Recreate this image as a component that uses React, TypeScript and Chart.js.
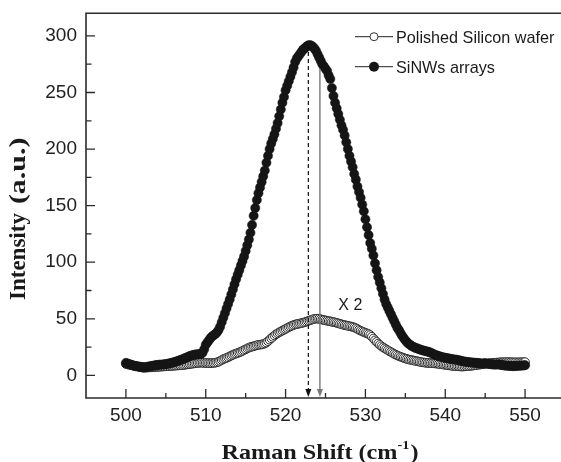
import React, { useEffect, useRef } from "react";
import { Chart, registerables } from "chart.js";

Chart.register(...registerables);

// Raman shift sample positions (cm^-1)
const ramanShift = [
  500, 500.2, 500.4, 500.6, 500.8, 501, 501.2, 501.4, 501.6, 501.8,
  502, 502.2, 502.4, 502.6, 502.8, 503, 503.2, 503.4, 503.6, 503.8,
  504, 504.2, 504.4, 504.6, 504.8, 505, 505.2, 505.4, 505.6, 505.8,
  506, 506.2, 506.4, 506.6, 506.8, 507, 507.2, 507.4, 507.6, 507.8,
  508, 508.2, 508.4, 508.6, 508.8, 509, 509.2, 509.4, 509.6, 509.8,
  510, 510.2, 510.4, 510.6, 510.8, 511, 511.2, 511.4, 511.6, 511.8,
  512, 512.2, 512.4, 512.6, 512.8, 513, 513.2, 513.4, 513.6, 513.8,
  514, 514.2, 514.4, 514.6, 514.8, 515, 515.2, 515.4, 515.6, 515.8,
  516, 516.2, 516.4, 516.6, 516.8, 517, 517.2, 517.4, 517.6, 517.8,
  518, 518.2, 518.4, 518.6, 518.8, 519, 519.2, 519.4, 519.6, 519.8,
  520, 520.2, 520.4, 520.6, 520.8, 521, 521.2, 521.4, 521.6, 521.8,
  522, 522.2, 522.4, 522.6, 522.8, 523, 523.2, 523.4, 523.6, 523.8,
  524, 524.2, 524.4, 524.6, 524.8, 525, 525.2, 525.4, 525.6, 525.8,
  526, 526.2, 526.4, 526.6, 526.8, 527, 527.2, 527.4, 527.6, 527.8,
  528, 528.2, 528.4, 528.6, 528.8, 529, 529.2, 529.4, 529.6, 529.8,
  530, 530.2, 530.4, 530.6, 530.8, 531, 531.2, 531.4, 531.6, 531.8,
  532, 532.2, 532.4, 532.6, 532.8, 533, 533.2, 533.4, 533.6, 533.8,
  534, 534.2, 534.4, 534.6, 534.8, 535, 535.2, 535.4, 535.6, 535.8,
  536, 536.2, 536.4, 536.6, 536.8, 537, 537.2, 537.4, 537.6, 537.8,
  538, 538.2, 538.4, 538.6, 538.8, 539, 539.2, 539.4, 539.6, 539.8,
  540, 540.2, 540.4, 540.6, 540.8, 541, 541.2, 541.4, 541.6, 541.8,
  542, 542.2, 542.4, 542.6, 542.8, 543, 543.2, 543.4, 543.6, 543.8,
  544, 544.2, 544.4, 544.6, 544.8, 545, 545.2, 545.4, 545.6, 545.8,
  546, 546.2, 546.4, 546.6, 546.8, 547, 547.2, 547.4, 547.6, 547.8,
  548, 548.2, 548.4, 548.6, 548.8, 549, 549.2, 549.4, 549.6, 549.8,
  550,
];

// Polished Silicon wafer (x2)
const polishedIntensity = [
  10, 9.7, 9.4, 9.1, 8.8, 8.5, 8.2, 7.9, 7.6, 7.3,
  7, 6.8, 6.8, 6.9, 7, 7, 7.1, 7.2, 7.3, 7.4,
  7.5, 7.6, 7.7, 7.8, 7.9, 8, 8.1, 8.2, 8.3, 8.4,
  8.5, 8.6, 8.7, 8.8, 8.9, 9, 9.2, 9.4, 9.6, 9.8,
  10, 10.2, 10.4, 10.6, 10.8, 11, 11.1, 11.2, 11.1, 11,
  11, 10.9, 10.8, 10.8, 10.9, 11, 11.2, 11.5, 12, 12.8,
  13.6, 14.3, 14.9, 15.4, 16, 16.8, 17.5, 18.2, 18.8, 19.3,
  19.8, 20.3, 20.9, 21.6, 22.3, 23, 23.8, 24.5, 25, 25.4,
  25.8, 26.2, 26.6, 27, 27.2, 27.3, 27.6, 28.2, 29, 30.2,
  31.5, 32.8, 34, 35.2, 36.3, 37.2, 38, 38.8, 39.6, 40.3,
  41, 41.8, 42.6, 43.3, 43.9, 44.5, 45, 45.3, 45.6, 45.9,
  46.2, 46.6, 47, 47.5, 48, 48.5, 49, 49.5, 49.9, 50.1,
  50.2, 50, 49.6, 49.2, 48.9, 48.6, 48.3, 48, 47.7, 47.4,
  47.1, 46.8, 46.4, 46, 45.6, 45.2, 44.8, 44.4, 44.1, 43.8,
  43.5, 43.2, 42.8, 42.3, 41.7, 41, 40.2, 39.5, 38.8, 38.2,
  37.6, 37.1, 36.5, 35.6, 34.2, 32.6, 31, 29.6, 28.2, 27,
  25.8, 24.8, 23.9, 23, 22.2, 21.4, 20.6, 19.8, 19, 18.3,
  17.6, 17, 16.4, 15.9, 15.4, 14.9, 14.5, 14.1, 13.8, 13.5,
  13.2, 12.9, 12.6, 12.3, 12, 11.7, 11.5, 11.3, 11.1, 11,
  10.9, 10.8, 10.7, 10.6, 10.5, 10.3, 10.1, 9.9, 9.7, 9.5,
  9.3, 9.1, 8.9, 8.7, 8.5, 8.3, 8.2, 8.1, 8, 7.9,
  7.8, 7.8, 7.9, 8, 8.1, 8.2, 8.4, 8.6, 8.8, 9,
  9.2, 9.4, 9.6, 9.8, 10, 10.2, 10.4, 10.6, 10.8, 11,
  11.1, 11.2, 11.3, 11.4, 11.5, 11.6, 11.6, 11.7, 11.7, 11.7,
  11.7, 11.6, 11.6, 11.5, 11.5, 11.5, 11.5, 11.6, 11.6, 11.7,
  11.7,
];

// SiNWs arrays
const sinwsIntensity = [
  11, 10.5, 10, 9.5, 9, 8.6, 8.2, 8, 7.8, 7.6,
  7.3, 7, 7.2, 7.4, 7.8, 8, 8.3, 8.5, 8.8, 9,
  9.2, 9.4, 9.5, 9.6, 9.8, 10, 10.2, 10.5, 10.8, 11.2,
  11.6, 12, 12.5, 13, 13.5, 14, 14.6, 15.2, 15.8, 16.4,
  17, 17.5, 18, 18.3, 18.5, 18.6, 18.8, 19, 20, 23,
  27, 29, 31, 33, 34.5, 35.5, 36.5, 38, 40, 43,
  47, 51, 55, 59, 63, 67, 71.5, 76, 80.5, 85,
  89, 93, 97, 101, 105, 110, 115, 120, 126, 133,
  141, 148, 155, 161, 166, 171, 176, 181, 188, 194,
  200, 205, 209, 213, 218, 223, 229, 235, 241, 246,
  252, 256, 260, 264, 268, 272, 277, 280, 282, 284,
  286, 288, 289, 290.5, 291.5, 292, 291.5, 290.5, 289, 287,
  284, 281, 278, 275, 273, 271, 269, 265, 262, 254,
  247, 241, 236, 231, 226, 221, 217, 212, 206, 200,
  194, 189, 184, 178, 173, 167, 162, 157, 151, 145,
  138, 131, 124, 117, 112, 106, 99, 93, 87, 82,
  77, 72, 67, 63, 60, 57, 54, 51, 48, 45,
  42, 40, 37.5, 35, 33, 31, 29.5, 28, 27, 26,
  25.2, 24.5, 24, 23.5, 23, 22.5, 22, 21.7, 21.3, 21,
  20.5, 20, 19.3, 18.5, 18, 17.5, 17, 16.6, 16.2, 15.8,
  15.5, 15.2, 15, 14.7, 14.4, 14.2, 14, 13.8, 13.5, 13.2,
  12.8, 12.5, 12.2, 12, 11.8, 11.6, 11.5, 11.3, 11.2, 11,
  11, 10.8, 10.6, 10.5, 10.6, 10.8, 10.5, 10.2, 10, 9.8,
  9.7, 9.5, 9.6, 9.8, 9.5, 9.2, 9, 8.8, 8.6, 8.5,
  8.4, 8.3, 8.2, 8.2, 8.3, 8.4, 8.5, 8.6, 8.7, 8.8,
  9,
];

const seriesNames = ["Polished Silicon wafer", "SiNWs arrays"];
const xTickValues = [500, 510, 520, 530, 540, 550];
const xMinorTickValues = [505, 515, 525, 535, 545];
const yTickValues = [0, 50, 100, 150, 200, 250, 300];
const yMinorTickValues = [25, 75, 125, 175, 225, 275];
const xRange = [495, 555];
const yRange = [-20, 320];

// Peak-position markers
const dashedArrow = { shift: 522.85, top: 292 };
const solidArrow = { shift: 524.3, top: 271 };
const scaleNote = { text: "X 2", shift: 526.6, value: 58 };

const xTitle = "Raman Shift (cm";
const xTitleSup = "-1";
const yTitleMain = "Intensity";
const yTitleUnit = "(a.u.)";

const SANS = '"Liberation Sans", Arial, Helvetica, sans-serif';
const SERIF = '"Liberation Serif", "Times New Roman", serif';
const AXIS_COLOR = "#2b2b2b";

const decorPlugin = {
  id: "decor",
  afterDraw(chart: any) {
    const ctx = chart.ctx as CanvasRenderingContext2D;
    const { left, right, top, bottom } = chart.chartArea;
    const xs = chart.scales.x;
    const ys = chart.scales.y;
    ctx.save();

    // frame
    ctx.strokeStyle = AXIS_COLOR;
    ctx.lineWidth = 1.6;
    ctx.setLineDash([]);
    ctx.beginPath();
    ctx.moveTo(left, top);
    ctx.lineTo(right, top);
    ctx.lineTo(right, bottom);
    ctx.lineTo(left, bottom);
    ctx.closePath();
    ctx.stroke();

    // ticks (inside)
    ctx.lineWidth = 1.3;
    ctx.beginPath();
    xTickValues.forEach((v) => {
      const px = xs.getPixelForValue(v);
      ctx.moveTo(px, bottom);
      ctx.lineTo(px, bottom - 9);
    });
    xMinorTickValues.forEach((v) => {
      const px = xs.getPixelForValue(v);
      ctx.moveTo(px, bottom);
      ctx.lineTo(px, bottom - 5);
    });
    yTickValues.forEach((v) => {
      const py = ys.getPixelForValue(v);
      ctx.moveTo(left, py);
      ctx.lineTo(left + 9, py);
    });
    yMinorTickValues.forEach((v) => {
      const py = ys.getPixelForValue(v);
      ctx.moveTo(left, py);
      ctx.lineTo(left + 5.5, py);
    });
    ctx.stroke();

    // arrows
    const drawArrow = (shift: number, topVal: number, dashed: boolean, color: string) => {
      const px = xs.getPixelForValue(shift);
      const py0 = ys.getPixelForValue(topVal);
      const tip = bottom - 1;
      ctx.strokeStyle = color;
      ctx.fillStyle = color;
      ctx.lineWidth = dashed ? 1.2 : 1.4;
      ctx.setLineDash(dashed ? [4, 3] : []);
      ctx.beginPath();
      ctx.moveTo(px, py0);
      ctx.lineTo(px, tip - 7);
      ctx.stroke();
      ctx.setLineDash([]);
      ctx.beginPath();
      ctx.moveTo(px - 3, tip - 8);
      ctx.lineTo(px + 3, tip - 8);
      ctx.lineTo(px, tip);
      ctx.closePath();
      ctx.fill();
    };
    drawArrow(dashedArrow.shift, dashedArrow.top, true, "#111");
    drawArrow(solidArrow.shift, solidArrow.top, false, "#777");

    // "X 2" note
    ctx.fillStyle = "#1a1a1a";
    ctx.font = `16px ${SANS}`;
    ctx.textAlign = "left";
    ctx.textBaseline = "alphabetic";
    ctx.fillText(scaleNote.text, xs.getPixelForValue(scaleNote.shift), ys.getPixelForValue(scaleNote.value));

    // legend
    const lx = left + 269;
    const rows = [top + 23.4, top + 53.4];
    rows.forEach((cy, i) => {
      ctx.strokeStyle = "#222";
      ctx.lineWidth = 1;
      ctx.beginPath();
      ctx.moveTo(lx, cy);
      ctx.lineTo(lx + 38, cy);
      ctx.stroke();
      ctx.beginPath();
      if (i === 0) {
        ctx.arc(lx + 19, cy, 4, 0, Math.PI * 2);
        ctx.fillStyle = "#fff";
        ctx.fill();
        ctx.strokeStyle = "#333";
        ctx.stroke();
      } else {
        ctx.arc(lx + 19, cy, 5, 0, Math.PI * 2);
        ctx.fillStyle = "#151515";
        ctx.fill();
      }
      ctx.fillStyle = "#1a1a1a";
      ctx.font = `16.2px ${SANS}`;
      ctx.fillText(seriesNames[i], lx + 41, cy + 6.5);
    });

    // x title (slightly wide, as in the original figure)
    ctx.save();
    const xStretch = 1.1;
    ctx.fillStyle = "#1a1a1a";
    ctx.font = `bold 22px ${SERIF}`;
    const mainW = ctx.measureText(xTitle).width;
    ctx.font = `bold 13px ${SERIF}`;
    const supW = ctx.measureText(xTitleSup).width;
    ctx.font = `bold 22px ${SERIF}`;
    const closeW = ctx.measureText(")").width;
    const total = (mainW + supW + closeW + 1) * xStretch;
    ctx.translate(312 - total / 2, 451);
    ctx.scale(xStretch, 1);
    let tx = 0;
    ctx.fillText(xTitle, tx, 0);
    tx += mainW;
    ctx.font = `bold 13px ${SERIF}`;
    ctx.fillText(xTitleSup, tx, -10);
    tx += supW + 1;
    ctx.font = `bold 22px ${SERIF}`;
    ctx.fillText(")", tx, 0);
    ctx.restore();

    // y title
    ctx.save();
    ctx.fillStyle = "#1a1a1a";
    ctx.translate(17, 292);
    ctx.rotate(-Math.PI / 2);
    ctx.textAlign = "left";
    ctx.font = `bold 23px ${SERIF}`;
    ctx.fillText(yTitleMain, 0, 0);
    const mW = ctx.measureText(yTitleMain).width;
    ctx.save();
    ctx.translate(mW + 9, 0);
    ctx.scale(1.3, 1);
    ctx.fillText(yTitleUnit, 0, 0);
    ctx.restore();
    ctx.restore();

    ctx.restore();
  },
};

export default function App() {
  const canvasRef = useRef<HTMLCanvasElement | null>(null);

  useEffect(() => {
    if (!canvasRef.current) return;
    const polishedPoints = ramanShift.map((x, i) => ({ x, y: polishedIntensity[i] }));
    const sinwsPoints = ramanShift.map((x, i) => ({ x, y: sinwsIntensity[i] }));
    const chart = new Chart(canvasRef.current, {
      type: "scatter",
      data: {
        datasets: [
          {
            label: seriesNames[0],
            data: polishedPoints,
            showLine: false,
            pointStyle: "circle",
            pointRadius: 4.3,
            pointBackgroundColor: "#ffffff",
            pointBorderColor: "#262626",
            pointBorderWidth: 1,
            order: 1,
          },
          {
            label: seriesNames[1],
            data: sinwsPoints,
            showLine: false,
            pointStyle: "circle",
            pointRadius: 4.6,
            pointBackgroundColor: "#151515",
            pointBorderColor: "#151515",
            pointBorderWidth: 0.5,
            order: 0,
          },
        ],
      },
      options: {
        animation: false,
        responsive: false,
        events: [],
        layout: { padding: { top: 3.6, right: 13, left: 0, bottom: 0 } },
        plugins: {
          legend: { display: false },
          tooltip: { enabled: false },
        },
        scales: {
          x: {
            type: "linear",
            min: xRange[0],
            max: xRange[1],
            grid: { display: false, drawTicks: false },
            border: { display: false },
            ticks: {
              font: { family: SANS, size: 19 },
              color: "#222",
              padding: 6,
              maxRotation: 0,
              autoSkip: false,
            },
            afterBuildTicks: (s: any) => {
              s.ticks = xTickValues.map((v) => ({ value: v }));
            },
            afterFit: (s: any) => {
              s.height = 64;
              s.paddingLeft = 0;
              s.paddingRight = 0;
            },
          },
          y: {
            type: "linear",
            min: yRange[0],
            max: yRange[1],
            grid: { display: false, drawTicks: false },
            border: { display: false },
            ticks: {
              font: { family: SANS, size: 19 },
              color: "#222",
              padding: 9,
              autoSkip: false,
            },
            afterBuildTicks: (s: any) => {
              s.ticks = yTickValues.map((v) => ({ value: v }));
            },
            afterFit: (s: any) => {
              s.width = 78;
              s.paddingTop = 0;
              s.paddingBottom = 0;
            },
          },
        },
      },
      plugins: [decorPlugin],
    });
    return () => chart.destroy();
  }, []);

  return (
    <div
      style={{
        position: "fixed",
        left: 0,
        top: 0,
        width: 561,
        height: 462,
        overflow: "hidden",
        background: "#fff",
      }}
    >
      <canvas
        ref={canvasRef}
        width={570}
        height={454}
        style={{ display: "block", position: "absolute", left: 8, top: 8 }}
      />
    </div>
  );
}
